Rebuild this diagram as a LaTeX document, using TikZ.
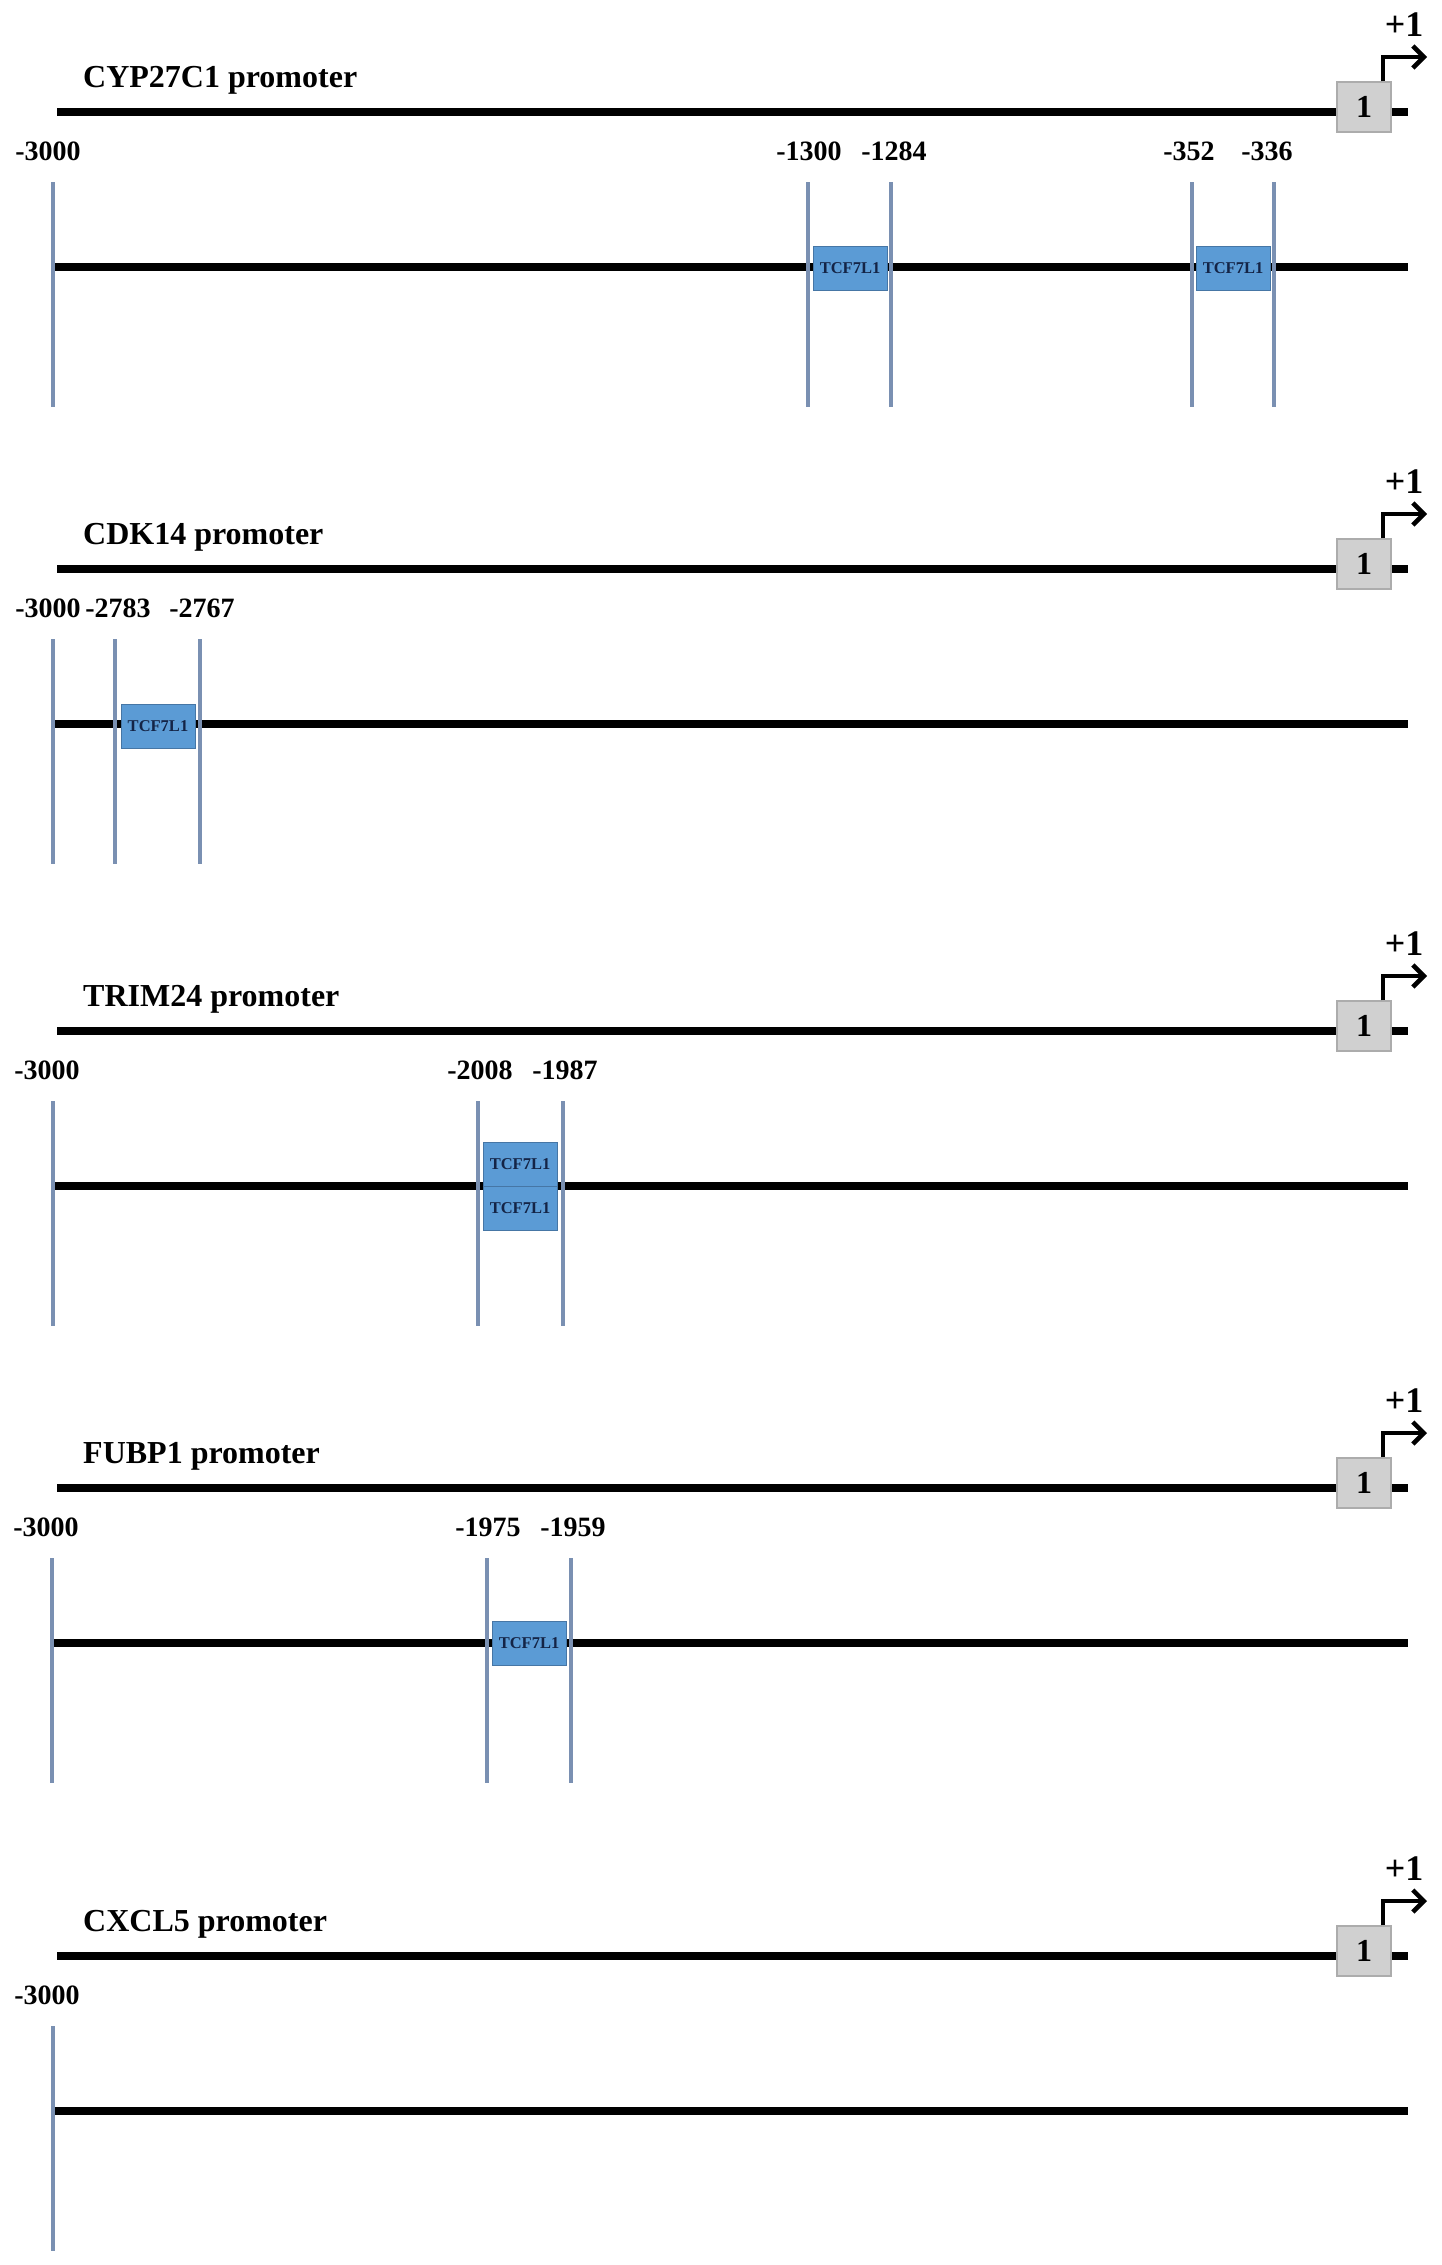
\documentclass[tikz,border=0pt]{standalone}
\usepackage{fontspec}
\setmainfont{Liberation Serif}
\usetikzlibrary{arrows.meta}
\definecolor{siteline}{RGB}{122,144,178}
\definecolor{tfblue}{RGB}{91,155,213}
\definecolor{tfedge}{RGB}{70,118,165}
\definecolor{tftext}{RGB}{20,36,70}
\definecolor{exgray}{RGB}{208,208,208}
\definecolor{exedge}{RGB}{172,172,172}
\tikzset{
 dna/.style={line width=8pt, black},
 siteln/.style={line width=3.2pt, siteline},
 tfbox/.style={draw=tfedge, line width=1pt, fill=tfblue, minimum width=74pt, minimum height=44pt, inner sep=0pt, font=\fontsize{16.5}{16.5}\selectfont\bfseries, text=tftext},
 exon/.style={draw=exedge, line width=1.5pt, fill=exgray, minimum width=54pt, minimum height=50pt, inner sep=0pt, font=\fontsize{32}{32}\selectfont\bfseries},
 poslab/.style={font=\fontsize{28}{28}\selectfont\bfseries, inner sep=0pt},
 ptitle/.style={font=\fontsize{32}{32}\selectfont\bfseries, anchor=west, inner sep=0pt},
 tsslab/.style={font=\fontsize{36}{36}\selectfont\bfseries, inner sep=0pt},
 tssarrow/.style={line width=4.5pt, -{Straight Barb[length=11pt,width=22pt,line width=4.5pt]}},
}
% #1 id, #2 y of top line, #3 gene name
\newcommand{\promoterrow}[3]{%
  \node[ptitle] (title#1) at (83,#2-32) {#3 promoter};
  \node[exon] (exon#1) at (1364,#2-5) {1};
  \coordinate (ls#1) at (57,#2);
  \coordinate (le#1) at (1408,#2);
  \draw[dna] (ls#1) -- (ls#1 -| exon#1.west);
  \draw[dna] (le#1 -| exon#1.east) -- (le#1);
  \coordinate (tip#1) at (1427,#2-55);
  \draw[tssarrow] ([xshift=19pt]exon#1.north) |- (tip#1);
  \node[tsslab] (plus#1) at (1404,#2-87) {+1};
  \coordinate (ms#1) at (53,#2+155);
  \coordinate (me#1) at (1408,#2+155);
  \draw[dna] (ms#1) -- (me#1);
}
% #1 id, #2 x of line, #3 top line y, #4 label x, #5 label
\newcommand{\sitemark}[5]{%
  \coordinate (st#1) at (#2,#3+70);
  \coordinate (sb#1) at (#2,#3+295);
  \draw[siteln] (st#1) -- (sb#1);
  \node[poslab] (lab#1) at (#4,#3+39) {#5};
}
\begin{document}
\begin{tikzpicture}[x=1pt,y=-1pt]
\useasboundingbox[fill=white] (0,0) rectangle (1441,2265);

% Panel 1: CYP27C1
\promoterrow{a}{112}{CYP27C1}
\sitemark{a0}{53}{112}{48}{-3000}
\sitemark{a1}{808}{112}{809}{-1300}
\sitemark{a2}{891}{112}{894}{-1284}
\sitemark{a3}{1192}{112}{1189}{-352}
\sitemark{a4}{1274}{112}{1267}{-336}
\node[tfbox] (tfa1) at (850,268) {TCF7L1};
\node[tfbox] (tfa2) at (1233,268) {TCF7L1};

% Panel 2: CDK14
\promoterrow{b}{569}{CDK14}
\sitemark{b0}{53}{569}{48}{-3000}
\sitemark{b1}{115}{569}{118}{-2783}
\sitemark{b2}{200}{569}{202}{-2767}
\node[tfbox] (tfb1) at (158,726) {TCF7L1};

% Panel 3: TRIM24
\promoterrow{c}{1031}{TRIM24}
\sitemark{c0}{53}{1031}{47}{-3000}
\sitemark{c1}{478}{1031}{480}{-2008}
\sitemark{c2}{563}{1031}{565}{-1987}
\node[tfbox] (tfc1) at (520,1164.5) {TCF7L1};
\node[tfbox] (tfc2) at (520,1208.5) {TCF7L1};

% Panel 4: FUBP1
\promoterrow{d}{1488}{FUBP1}
\sitemark{d0}{52}{1488}{46}{-3000}
\sitemark{d1}{487}{1488}{488}{-1975}
\sitemark{d2}{571}{1488}{573}{-1959}
\node[tfbox] (tfd1) at (529,1643) {TCF7L1};

% Panel 5: CXCL5
\promoterrow{e}{1956}{CXCL5}
\sitemark{e0}{53}{1956}{47}{-3000}
\end{tikzpicture}
\end{document}
